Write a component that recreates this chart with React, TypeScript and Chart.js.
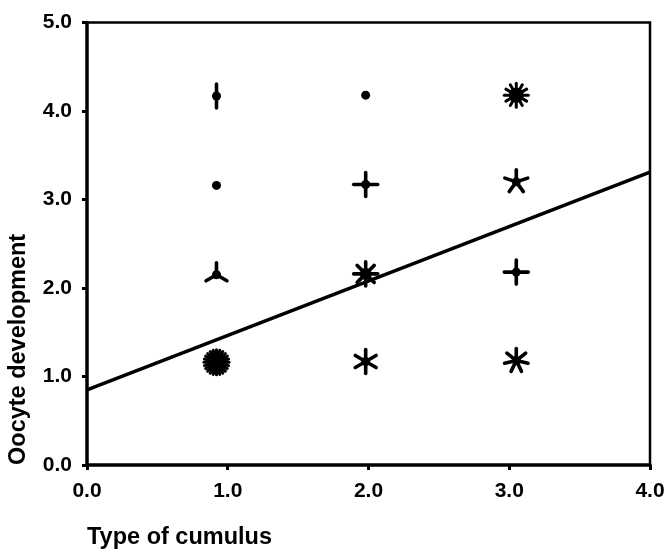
import React, { useEffect, useRef } from 'react';
import { Chart, registerables } from 'chart.js';

Chart.register(...registerables);

// Sunflower points: position and number of observations (petals)
const cumulusType = [0.92, 1.98, 3.05, 0.92, 1.98, 3.05, 0.92, 1.98, 3.05, 0.92, 1.98, 3.05];
const oocyteDev = [4.17, 4.18, 4.18, 3.16, 3.17, 3.2, 2.15, 2.16, 2.18, 1.16, 1.17, 1.18];
const counts = [2, 1, 12, 1, 4, 5, 3, 8, 4, 24, 6, 7];

// Regression line end points
const fitX = [0, 4];
const fitY = [0.85, 3.31];

const xTicks = [0, 1, 2, 3, 4];
const yTicks = [0, 1, 2, 3, 4, 5];

const FONT = '"Liberation Sans", Arial, Helvetica, sans-serif';

const framePlugin = {
  id: 'frame',
  beforeDatasetsDraw(chart: any) {
    const { ctx, chartArea } = chart;
    const { left, right, top, bottom } = chartArea;
    ctx.save();
    ctx.strokeStyle = '#000';
    ctx.lineCap = 'round';
    ctx.lineWidth = 2.5;
    ctx.beginPath();
    ctx.moveTo(left, top);
    ctx.lineTo(right, top);
    ctx.lineTo(right, bottom);
    ctx.stroke();
    ctx.lineWidth = 3.5;
    ctx.beginPath();
    ctx.moveTo(left, top);
    ctx.lineTo(left, bottom);
    ctx.lineTo(right, bottom);
    ctx.stroke();
    ctx.restore();
  },
};

function centerRadius(n: number) {
  if (n >= 20) return 10.5;
  if (n >= 12) return 7.5;
  if (n >= 8) return 6;
  return 4.5;
}

const sunflowerPlugin = {
  id: 'sunflower',
  afterDatasetsDraw(chart: any) {
    const meta = chart.getDatasetMeta(1);
    const ctx = chart.ctx;
    ctx.save();
    ctx.strokeStyle = '#000';
    ctx.fillStyle = '#000';
    ctx.lineCap = 'round';
    meta.data.forEach((el: any, i: number) => {
      const n = counts[i];
      const x = el.x;
      const y = el.y;
      const L = n >= 20 ? 12.5 : 12;
      ctx.lineWidth = n >= 12 ? 3 : 3.6;
      if (n > 1) {
        for (let k = 0; k < n; k++) {
          const a = -Math.PI / 2 + (2 * Math.PI * k) / n;
          ctx.beginPath();
          ctx.moveTo(x, y);
          ctx.lineTo(x + L * Math.cos(a), y + L * Math.sin(a));
          ctx.stroke();
        }
      }
      ctx.beginPath();
      ctx.arc(x, y, centerRadius(n), 0, Math.PI * 2);
      ctx.fill();
    });
    ctx.restore();
  },
};

export default function App() {
  const canvasRef = useRef<HTMLCanvasElement | null>(null);

  useEffect(() => {
    if (!canvasRef.current) return;
    const chart = new Chart(canvasRef.current, {
      type: 'scatter',
      data: {
        datasets: [
          {
            type: 'line',
            data: fitX.map((x, i) => ({ x, y: fitY[i] })),
            borderColor: '#000',
            borderWidth: 3.5,
            pointRadius: 0,
            fill: false,
          } as any,
          {
            type: 'scatter',
            data: cumulusType.map((x, i) => ({ x, y: oocyteDev[i] })),
            pointRadius: 0,
            pointHoverRadius: 0,
            backgroundColor: '#000',
          },
        ],
      },
      options: {
        responsive: false,
        animation: false,
        layout: { padding: { top: 16, right: 18, left: 0, bottom: 0 } },
        plugins: {
          legend: { display: false },
          tooltip: { enabled: false },
        },
        scales: {
          x: {
            type: 'linear',
            min: 0,
            max: 4,
            afterBuildTicks: (s: any) => {
              s.ticks = xTicks.map((v) => ({ value: v }));
            },
            afterFit: (s: any) => {
              s.height = 87;
              s.paddingLeft = 0;
              s.paddingRight = 0;
            },
            ticks: {
              callback: (v: any) => Number(v).toFixed(1),
              color: '#000',
              font: { family: FONT, size: 21, weight: 'bold' },
              padding: 9,
              maxRotation: 0,
              autoSkip: false,
            },
            grid: {
              display: true,
              drawOnChartArea: false,
              drawTicks: true,
              tickLength: 5,
              tickColor: '#000',
              tickWidth: 3,
            },
            border: { display: false },
            title: {
              display: true,
              text: 'Type of cumulus',
              align: 'start',
              color: '#000',
              font: { family: FONT, size: 23.5, weight: 'bold' },
              padding: { top: 0, bottom: 0 },
            },
          },
          y: {
            type: 'linear',
            min: 0,
            max: 5,
            afterBuildTicks: (s: any) => {
              s.ticks = yTicks.map((v) => ({ value: v }));
            },
            afterFit: (s: any) => {
              s.width = 87;
            },
            ticks: {
              callback: (v: any) => Number(v).toFixed(1),
              color: '#000',
              font: { family: FONT, size: 21, weight: 'bold' },
              padding: 10,
              autoSkip: false,
            },
            grid: {
              display: true,
              drawOnChartArea: false,
              drawTicks: true,
              tickLength: 5,
              tickColor: '#000',
              tickWidth: 3,
            },
            border: { display: false },
            title: {
              display: true,
              text: 'Oocyte development',
              align: 'start',
              color: '#000',
              font: { family: FONT, size: 23.5, weight: 'bold' },
              padding: { top: 4, bottom: 4 },
            },
          },
        },
      },
      plugins: [framePlugin, sunflowerPlugin],
    });
    return () => chart.destroy();
  }, []);

  return (
    <div style={{ position: 'absolute', left: 0, top: 0, width: 668, height: 552, background: '#fff' }}>
      <canvas ref={canvasRef} width={668} height={552} />
    </div>
  );
}
